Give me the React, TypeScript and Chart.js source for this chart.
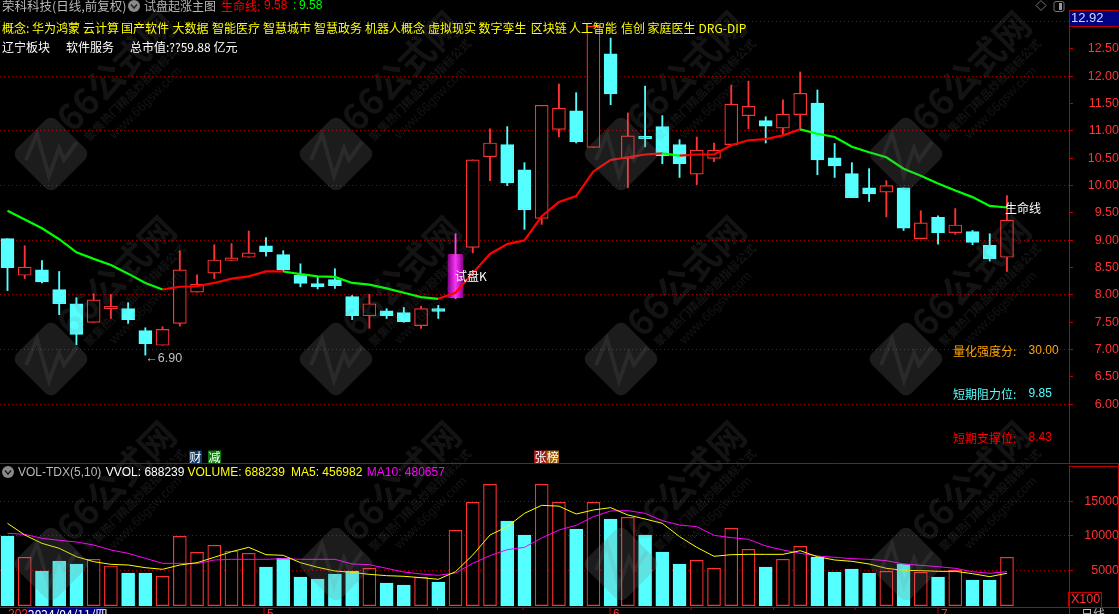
import React, { useEffect, useRef } from "react";
import { Chart, registerables } from "chart.js";

Chart.register(...registerables);

const opens = [9.03,8.36,8.46,8.10,7.84,7.50,7.75,7.75,7.35,7.08,7.48,8.05,8.40,8.63,8.69,8.90,8.74,8.36,8.21,8.28,7.97,7.62,7.71,7.68,7.44,7.75,7.95,8.87,10.53,10.75,10.29,9.40,11.03,11.37,10.70,12.41,10.50,10.90,11.08,10.75,10.21,10.50,10.75,11.28,11.19,11.05,11.30,11.51,10.51,10.22,9.96,9.88,9.96,9.03,9.42,9.14,9.16,8.91,8.69];
const closes = [8.50,8.51,8.24,7.84,7.28,7.91,7.79,7.55,7.11,7.37,8.46,8.20,8.64,8.68,8.77,8.79,8.46,8.21,8.15,8.17,7.62,7.84,7.62,7.51,7.75,7.70,8.74,10.47,10.78,10.05,9.56,11.47,11.42,10.80,12.92,11.68,10.91,10.86,10.55,10.40,10.65,10.65,11.49,11.45,11.09,11.31,11.69,10.47,10.36,9.78,9.85,10.00,9.22,9.32,9.14,9.28,8.96,8.66,9.37];
const highs = [9.03,8.90,8.63,8.43,7.95,8.02,8.01,7.86,7.40,7.42,8.81,8.37,8.92,8.94,9.17,9.05,8.81,8.57,8.33,8.48,7.99,8.01,7.75,7.77,7.79,7.81,9.12,10.47,11.04,11.08,10.42,11.47,11.86,11.70,12.92,12.70,11.33,11.82,11.28,10.84,10.89,10.78,11.84,11.91,11.26,11.57,12.08,11.75,10.77,10.42,10.31,10.09,9.96,9.54,9.45,9.58,9.18,9.12,9.82];
const lows = [8.08,8.30,8.22,7.64,7.09,7.50,7.57,7.48,6.90,7.08,7.43,8.05,8.30,8.63,8.69,8.71,8.43,8.15,8.11,8.12,7.55,7.39,7.57,7.50,7.39,7.57,7.93,8.77,10.09,10.00,9.20,9.29,10.89,10.78,10.70,11.48,9.96,10.71,10.40,10.15,10.02,10.44,10.75,11.04,10.78,10.93,11.02,10.20,10.15,9.78,9.71,9.43,9.18,9.03,8.93,9.11,8.92,8.62,8.43];
const lifeLine = [9.54,9.38,9.22,9.02,8.78,8.66,8.55,8.39,8.22,8.10,8.15,8.16,8.22,8.30,8.34,8.43,8.43,8.38,8.34,8.33,8.22,8.19,8.12,8.04,7.96,7.93,8.04,8.40,8.75,8.93,9.00,9.44,9.70,9.81,10.26,10.47,10.52,10.57,10.59,10.55,10.57,10.57,10.74,10.83,10.85,10.92,11.03,10.95,10.89,10.71,10.61,10.52,10.31,10.18,10.04,9.91,9.79,9.63,9.60];
const volumes = [9974,6883,4902,6351,5917,6593,5627,4613,4613,4130,9926,7607,8621,7800,7462,5482,6738,4033,3743,4468,4902,5289,3164,2874,3985,3308,10795,14852,17460,12148,10119,17460,14852,10988,14852,12437,12678,10119,7655,5917,6448,5289,11085,8042,5482,6593,8477,6931,4757,5192,4613,4854,5917,4709,4033,4999,3598,3598,6882];
const ma5 = [11809,10119,8911,8187,6979,6255,5868,5772,5385,5144,5772,6110,6883,7704,8332,7269,7173,6110,5434,4902,4709,4419,4226,4130,3936,3695,4806,7221,10119,11326,13258,14417,14300,13161,13741,14079,13017,12437,11809,9877,8332,7028,7269,7317,7317,7317,7849,6979,6496,6303,5917,5289,4999,4951,4854,4854,4516,4081,4570];
const ma10 = [10360,10215,9636,9346,9104,8670,7945,7462,6738,6013,6013,5965,6496,6593,6593,6593,6690,6593,6593,6593,5917,5820,5289,4758,4468,4275,4613,6013,7124,7994,8332,9684,10843,11520,12775,13596,13645,13258,12196,11568,11326,10071,9733,9491,8525,7945,7462,7076,6883,6690,6593,6400,5917,5724,5530,5289,4806,4564,4807];

const priceTicks = [6,6.5,7,7.5,8,8.5,9,9.5,10,10.5,11,11.5,12,12.5,13];
const volumeTicks = [5000,10000,15000];
const trialIndex = 26;
const conceptItems: [string, number][] = [["概念:",2],["华为鸿蒙",32],["云计算",83],["国产软件",121],["大数据",172.5],["智能医疗",212],["智慧城市",263],["智慧政务",314],["机器人概念",365],["虚拟现实",428],["数字孪生",478.6],["区块链",530.7],["人工智能",569],["信创",621],["家庭医生",647.5],["DRG-DIP",698.6]];
const boardItems: [string, number][] = [["辽宁板块",2],["软件服务",66],["总市值:??59.88 亿元",130]];
const infoItems: [string, string, string, number][] = [["量化强度分:","30.00","#FFA500",351],["短期阻力位:","9.85","#55FFFF",394],["短期支撑位:","8.43","#FF0000",438]];
const minorDateTicks = [350,437.5,523,691,773.6,855];
const monthMarks: [string, number][] = [["5",264],["6",610],["7",938]];

const RED = "#FF3232";
const CYAN = "#55FFFF";
const AXIS = "#C00000";
const GRID = "#A00000";
const SANS = '"Liberation Sans","Noto Sans CJK SC",sans-serif';
const CJK = '"Noto Sans CJK SC","Liberation Sans",sans-serif';
const xMin = -0.435;
const xMax = 61.6;

function txt(ctx: any, s: string, x: number, y: number, color: string, font: string, align: any = "left") {
  ctx.font = font;
  ctx.fillStyle = color;
  ctx.textAlign = align;
  ctx.textBaseline = "middle";
  ctx.fillText(s, x, y);
}

function chevron(ctx: any, cx: number, cy: number) {
  ctx.fillStyle = "#8a8a8a";
  ctx.beginPath();
  ctx.arc(cx, cy, 6, 0, Math.PI * 2);
  ctx.fill();
  ctx.strokeStyle = "#222";
  ctx.lineWidth = 1.5;
  ctx.beginPath();
  ctx.moveTo(cx - 3, cy - 1.5);
  ctx.lineTo(cx, cy + 2);
  ctx.lineTo(cx + 3, cy - 1.5);
  ctx.stroke();
}

function watermarkPlugin(offsetY: number) {
  return {
    id: "wm" + offsetY,
    afterDatasetsDraw(chart: any) {
      const ctx = chart.ctx;
      const tint = "rgba(128,128,128,0.22)";
      const soft = "rgba(128,128,128,0.15)";
      ctx.save();
      ctx.translate(0, -offsetY);
      [154, 359, 564].forEach((cy) => {
        [51, 336, 621, 906].forEach((cx) => {
          ctx.save();
          ctx.translate(cx, cy);
          ctx.save();
          ctx.rotate(Math.PI / 4);
          ctx.fillStyle = tint;
          ctx.beginPath();
          ctx.roundRect(-28, -28, 56, 56, 8);
          ctx.fill();
          ctx.restore();
          ctx.strokeStyle = "rgba(128,128,128,0.14)";
          ctx.lineWidth = 4;
          ctx.beginPath();
          ctx.moveTo(-25, 6);
          ctx.lineTo(-14, -20);
          ctx.lineTo(-2, 22);
          ctx.lineTo(8, -6);
          ctx.lineTo(13, 6);
          ctx.lineTo(26, -12);
          ctx.stroke();
          ctx.restore();
          const rotText = (s: string, dx: number, dy: number, font: string) => {
            ctx.save();
            ctx.translate(cx + dx, cy + dy);
            ctx.rotate(-Math.PI / 4);
            txt(ctx, s, 0, 0, soft, font, "center");
            ctx.restore();
          };
          rotText("66公式网", 65, -83, "bold 36px " + CJK);
          rotText("聚集热门精品炒股指标公式", 84, -64, "bold 11.5px " + CJK);
          rotText("www.66gsw.com", 95, -51, "13px " + SANS);
        });
      });
      ctx.restore();
    },
  };
}

const mainOverlay = {
  id: "mainOverlay",
  afterDraw(chart: any) {
    const ctx = chart.ctx;
    const scaleX = chart.scales.x;
    const scaleY = chart.scales.y;
    ctx.save();
    txt(ctx, "荣科科技(日线,前复权)", 2, 6, "#B8B8B8", "12.5px " + CJK);
    chevron(ctx, 134, 6);
    txt(ctx, "试盘起涨主图", 144, 6, "#B8B8B8", "12px " + CJK);
    txt(ctx, "生命线:", 221, 6, "#FF0000", "12px " + CJK);
    txt(ctx, "9.58", 264, 6, "#FF0000", "12px " + SANS);
    txt(ctx, ":", 293, 6, "#00FF00", "12px " + SANS);
    txt(ctx, "9.58", 299, 6, "#00FF00", "12px " + SANS);
    conceptItems.forEach(([s, x]) => txt(ctx, s, x, 28, "#FFFF00", "12px " + CJK));
    boardItems.forEach(([s, x]) => txt(ctx, s, x, 47, "#FFFFFF", "12px " + CJK));

    txt(ctx, "←6.90", scaleX.getPixelForValue(8), scaleY.getPixelForValue(6.9) + 3, "#C0C0C0", "12.5px " + SANS);
    txt(ctx, "试盘K", 455, 276, "#FFFFFF", "12px " + CJK);
    txt(ctx, "生命线", 1005, 208, "#FFFFFF", "12px " + CJK);
    infoItems.forEach(([label, val, color, y]) => {
      txt(ctx, label, 953, y, color, "12px " + CJK);
      txt(ctx, val, 1028.6, y, color, "12px " + SANS);
    });

    const badge = (s: string, x: number, w: number, bg: string) => {
      ctx.fillStyle = bg;
      ctx.fillRect(x, 450.5, w, 12.5);
      txt(ctx, s, x + w / 2, 457, "#FFFFFF", "12px " + CJK, "center");
    };
    badge("财", 189, 13, "#0A3A70");
    badge("减", 208, 13, "#0A7A0A");
    badge("张", 534, 13, "#A01818");
    badge("榜", 546.5, 12.5, "#A06010");

    ctx.strokeStyle = AXIS;
    ctx.lineWidth = 1;
    ctx.beginPath();
    ctx.moveTo(0, 463.5);
    ctx.lineTo(1119, 463.5);
    ctx.stroke();

    ctx.fillStyle = "#000080";
    ctx.fillRect(1070, 10, 49, 16);
    ctx.strokeStyle = AXIS;
    ctx.beginPath();
    ctx.moveTo(1069, 10.5);
    ctx.lineTo(1119, 10.5);
    ctx.moveTo(1069, 26.5);
    ctx.lineTo(1119, 26.5);
    ctx.stroke();
    txt(ctx, "12.92", 1071, 18, "#C8D8FF", "13px " + SANS);

    ctx.strokeStyle = "#777";
    ctx.lineWidth = 1;
    ctx.beginPath();
    ctx.moveTo(1041, 0.5);
    ctx.lineTo(1046, 5.5);
    ctx.lineTo(1041, 10.5);
    ctx.lineTo(1036, 5.5);
    ctx.closePath();
    ctx.stroke();
    ctx.beginPath();
    ctx.roundRect(1054, 1.5, 10, 10, 2);
    ctx.stroke();
    ctx.fillStyle = "#999";
    ctx.fillRect(1059, 3, 3, 7);
    ctx.restore();
  },
};

const volumeOverlay = {
  id: "volumeOverlay",
  afterDraw(chart: any) {
    const ctx = chart.ctx;
    const top = 464;
    ctx.save();
    chevron(ctx, 8, 472 - top);
    const y = 472.5 - top;
    txt(ctx, "VOL-TDX(5,10)", 18, y, "#B8B8B8", "12px " + SANS);
    txt(ctx, "VVOL: 688239", 105.7, y, "#FFFFFF", "12px " + SANS);
    txt(ctx, "VOLUME: 688239", 187.5, y, "#FFFF00", "12px " + SANS);
    txt(ctx, "MA5: 456982", 291, y, "#FFFF00", "12px " + SANS);
    txt(ctx, "MA10: 480657", 366.8, y, "#FF00FF", "12px " + SANS);

    ctx.strokeStyle = AXIS;
    ctx.lineWidth = 1;
    ctx.beginPath();
    ctx.moveTo(0, 607.5 - top);
    ctx.lineTo(1119, 607.5 - top);
    ctx.moveTo(1069, 466.5 - top);
    ctx.lineTo(1119, 466.5 - top);
    ctx.moveTo(1118.5, 464 - top);
    ctx.lineTo(1118.5, 607 - top);
    ctx.moveTo(1069.5, 600 - top);
    ctx.lineTo(1069.5, 614 - top);
    minorDateTicks.forEach((x) => {
      ctx.moveTo(x, 607 - top);
      ctx.lineTo(x, 610 - top);
    });
    monthMarks.forEach(([, x]) => {
      ctx.moveTo(x, 607 - top);
      ctx.lineTo(x, 614 - top);
    });
    ctx.stroke();
    const by = 614.5 - top;
    monthMarks.forEach(([s, x]) => txt(ctx, s, x + 3, by, RED, "12px " + SANS));
    txt(ctx, "202", 8, by, RED, "12px " + SANS);
    ctx.fillStyle = "#000080";
    ctx.fillRect(27, 608 - top, 77, 7);
    txt(ctx, "2024/04/11/四", 28, by, "#FFFFFF", "12px " + CJK);
    ctx.strokeStyle = AXIS;
    ctx.strokeRect(1068.5, 592.5 - top, 33, 15);
    txt(ctx, "X100", 1071, 600 - top, RED, "12.5px " + SANS);
    txt(ctx, "日线", 1081, by, "#C0C0C0", "12px " + CJK);
    ctx.restore();
  },
};

const xAxis = { type: "linear", display: false, min: xMin, max: xMax, offset: false };

function yAxis(min: number, max: number, values: number[], extra: any) {
  return {
    position: "right",
    min,
    max,
    afterBuildTicks: (s: any) => { s.ticks = values.map((value) => ({ value })); },
    afterFit: (s: any) => {
      s.width = 50;
      s.paddingTop = 0;
      s.paddingBottom = 0;
    },
    border: { color: AXIS, width: 1, dash: [1, 3] },
    ticks: { autoSkip: false, maxRotation: 0, color: RED, font: { family: SANS, size: 12.5 }, crossAlign: "far", padding: 11, ...extra.ticks },
    grid: { tickLength: 4, lineWidth: 1, tickColor: AXIS, ...extra.grid },
  };
}

const isUp = closes.map((c, i) => c >= opens[i]);
const xy = (arr: number[]) => arr.map((y, x) => ({ x, y }));

export default function App() {
  const mainRef = useRef<HTMLCanvasElement>(null);
  const volRef = useRef<HTMLCanvasElement>(null);

  useEffect(() => {
    document.body.style.margin = "0";
    document.body.style.background = "#000";
    const barBase = { grouped: false, borderSkipped: false, parsing: { xAxisKey: "x", yAxisKey: "y" } };

    const main = new Chart(mainRef.current as any, {
      type: "bar",
      data: {
        datasets: [
          {
            type: "line",
            label: "生命线",
            data: xy(lifeLine),
            order: 1,
            borderWidth: 2.2,
            pointRadius: 0,
            tension: 0,
            borderColor: "#00FF00",
            segment: { borderColor: (c: any) => (c.p1.parsed.y >= c.p0.parsed.y ? "#FF0000" : "#00FF00") },
          },
          {
            ...barBase,
            label: "试盘K",
            data: [{ x: trialIndex, y: [opens[trialIndex], closes[trialIndex]] }],
            order: 2,
            barThickness: 15,
            backgroundColor: (c: any) => {
              const ch = c.chart;
              if (!ch.chartArea) return "#FF00FF";
              const px = ch.scales.x.getPixelForValue(trialIndex);
              const g = ch.ctx.createLinearGradient(px - 7.5, 0, px + 7.5, 0);
              g.addColorStop(0, "#8C008C");
              g.addColorStop(0.5, "#FF30FF");
              g.addColorStop(1, "#8C008C");
              return g;
            },
            borderWidth: 0,
          },
          {
            ...barBase,
            label: "K",
            data: opens.map((o, x) => ({ x, y: [o, closes[x]] })),
            order: 3,
            barThickness: 13,
            backgroundColor: isUp.map((u) => (u ? "#000000" : CYAN)),
            borderColor: isUp.map((u) => (u ? RED : CYAN)),
            borderWidth: 1.2,
          },
          {
            ...barBase,
            label: "wick",
            data: highs.map((h, x) => ({ x, y: [lows[x], h] })),
            order: 4,
            barThickness: 1.2,
            backgroundColor: isUp.map((u, i) => (i === trialIndex ? "#FF40FF" : u ? RED : CYAN)),
            borderWidth: 0,
          },
        ] as any,
      },
      options: {
        responsive: false,
        animation: false,
        devicePixelRatio: 1,
        layout: { padding: { top: 10, left: 0, right: 0, bottom: 0 } },
        plugins: { legend: { display: false }, tooltip: { enabled: false } },
        scales: {
          x: xAxis,
          y: yAxis(4.908, 13.213, priceTicks, {
            ticks: { callback: (v: number) => (v >= 13 ? "" : v.toFixed(2)) },
            grid: {
              color: (c: any) => (Number.isInteger(c.tick?.value ?? 0.5) ? GRID : "transparent"),
            },
          }),
        },
      } as any,
      plugins: [watermarkPlugin(0), mainOverlay] as any,
    });

    const vol = new Chart(volRef.current as any, {
      type: "bar",
      data: {
        datasets: [
          {
            type: "line",
            label: "MA5",
            data: xy(ma5),
            order: 1,
            borderColor: "#FFFF00",
            borderWidth: 1,
            pointRadius: 0,
          },
          {
            type: "line",
            label: "MA10",
            data: xy(ma10),
            order: 2,
            borderColor: "#FF00FF",
            borderWidth: 1,
            pointRadius: 0,
          },
          {
            ...barBase,
            label: "VOL",
            data: volumes.map((v, x) => ({ x, y: [-110, v] })),
            order: 3,
            barThickness: 13,
            backgroundColor: isUp.map((u) => (u ? "#000000" : CYAN)),
            borderColor: isUp.map((u) => (u ? RED : CYAN)),
            borderWidth: 1.2,
          },
        ] as any,
      },
      options: {
        responsive: false,
        animation: false,
        devicePixelRatio: 1,
        layout: { padding: { top: 1, left: 0, right: 0, bottom: 8 } },
        plugins: { legend: { display: false }, tooltip: { enabled: false } },
        scales: {
          x: xAxis,
          y: yAxis(-170, 20261, volumeTicks, {
            ticks: { padding: 8, callback: (v: number) => String(v) },
            grid: { color: GRID },
          }),
        },
      } as any,
      plugins: [watermarkPlugin(464), volumeOverlay] as any,
    });

    return () => {
      main.destroy();
      vol.destroy();
    };
  }, []);

  return (
    <div style={{ position: "absolute", left: 0, top: 0, width: 1119, height: 614, background: "#000", overflow: "hidden" }}>
      <canvas ref={mainRef} width={1119} height={464} style={{ position: "absolute", left: 0, top: 0, display: "block" }} />
      <canvas ref={volRef} width={1119} height={150} style={{ position: "absolute", left: 0, top: 464, display: "block" }} />
    </div>
  );
}
